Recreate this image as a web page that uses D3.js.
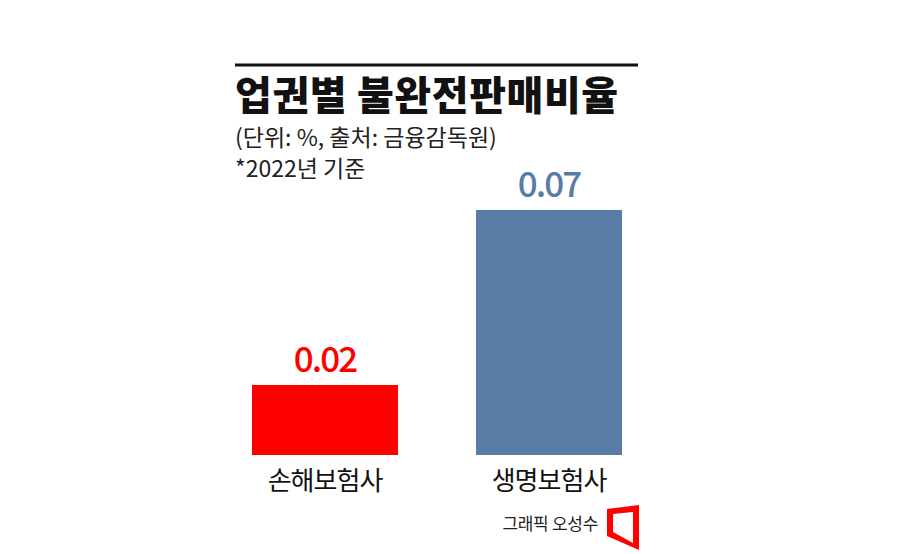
<!DOCTYPE html>
<html>
<head>
<meta charset="utf-8">
<script src="https://cdn.jsdelivr.net/npm/d3@7"></script>
<style>
html,body{margin:0;padding:0;background:#fff;}
svg{display:block;}
text{font-family:"Noto Sans CJK KR","Noto Sans",sans-serif;}
</style>
</head>
<body>
<svg id="chart" width="900" height="554"></svg>
<script>
const categories = ["손해보험사", "생명보험사"];
const values = [0.02, 0.07];
const valueLabels = ["0.02", "0.07"];
const barColors = ["#ff0000", "#587ca6"];
const title = "업권별 불완전판매비율";
const subtitle = "(단위: %, 출처: 금융감독원)";
const note = "*2022년 기준";
const credit = "그래픽 오성수";

const svg = d3.select("#chart");

const x = d3.scaleBand().domain(categories).range([213, 661])
  .paddingInner(0.348).paddingOuter(0.174);
const y = d3.scaleLinear().domain([0, 0.07]).range([455, 210]);

// top rule
svg.append("line").attr("x1", 235).attr("x2", 638).attr("y1", 65).attr("y2", 65)
  .attr("stroke", "#111").attr("stroke-width", 3);

svg.append("text").attr("x", 235).attr("y", 110)
  .attr("font-size", 40).attr("font-weight", 900).attr("fill", "#111")
  .attr("letter-spacing", 0.6)
  .text(title);
svg.append("text").attr("x", 235).attr("y", 146)
  .attr("font-size", 23).attr("fill", "#222")
  .text(subtitle);
svg.append("text").attr("x", 235).attr("y", 177)
  .attr("font-size", 23).attr("fill", "#222")
  .text(note);

const data = categories.map((c, i) => ({c, v: values[i], label: valueLabels[i], color: barColors[i]}));

svg.selectAll("rect.bar").data(data).join("rect").attr("class", "bar")
  .attr("x", d => x(d.c)).attr("width", x.bandwidth())
  .attr("y", d => y(d.v)).attr("height", d => y(0) - y(d.v))
  .attr("fill", d => d.color);

svg.selectAll("text.val").data(data).join("text").attr("class", "val")
  .attr("x", d => x(d.c) + x.bandwidth() / 2).attr("y", d => y(d.v) - 13)
  .attr("text-anchor", "middle").attr("font-size", 35).attr("font-weight", 500)
  .attr("letter-spacing", -2)
  .attr("fill", d => d.color).text(d => d.label);

// category axis labels
const xAxis = d3.axisBottom(x).tickSize(0).tickPadding(0);
const gx = svg.append("g").attr("transform", `translate(0,${y(0)})`).call(xAxis);
gx.select(".domain").remove();
gx.selectAll("text").attr("font-size", 26).attr("fill", "#111")
  .attr("font-family", '"Noto Sans CJK KR",sans-serif')
  .attr("dy", 0).attr("y", 35).attr("letter-spacing", -1);

// credit
svg.append("text").attr("x", 598).attr("y", 530).attr("text-anchor", "end")
  .attr("font-size", 17).attr("fill", "#222").attr("letter-spacing", -0.3)
  .text(credit);

// logo
svg.append("path")
  .attr("d", "M607,509 L639,505 L639,550 L607,536 Z M613,514 L633,512 L633,543 L613,532 Z")
  .attr("fill", "#ff0000").attr("fill-rule", "evenodd");
</script>
</body>
</html>
